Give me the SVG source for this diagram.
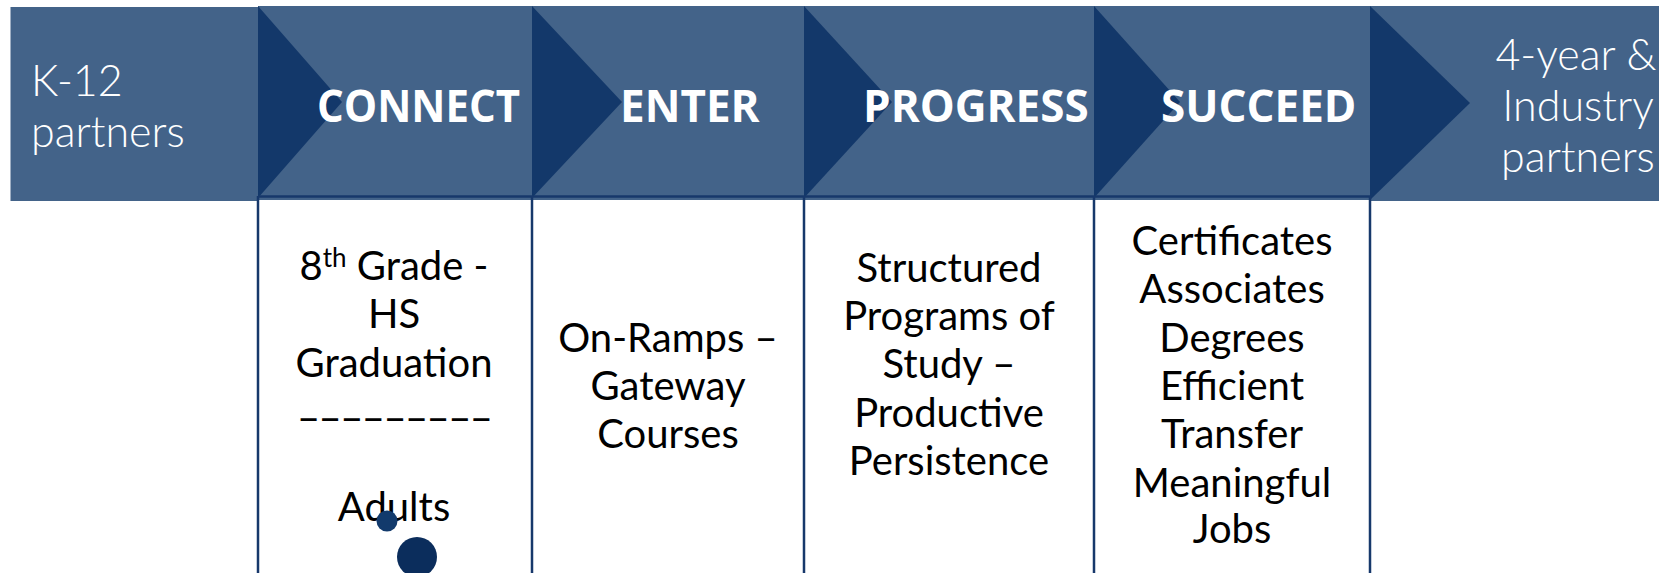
<svg xmlns="http://www.w3.org/2000/svg" width="1659" height="573" viewBox="0 0 1659 573">
<style>
.hdr{fill:#436389}
.tri{fill:#13386a}
.lbl{font-family:'Open Sans','Liberation Sans',sans-serif;font-weight:700;font-size:44px;fill:#fff}
.side{font-family:Lato,'Liberation Sans',sans-serif;font-weight:300;font-size:43px;fill:#fff}
.body{font-family:Lato,'Liberation Sans',sans-serif;font-size:40px;fill:#000;text-anchor:middle}
.ln{stroke:#17386b;stroke-width:2.5;fill:none}
</style>
<rect width="1659" height="573" fill="#fff"/>
<g id="k12">
<rect class="hdr" x="10.5" y="7" width="247.5" height="194"/>
<text class="side" x="31" y="96">K-12</text>
<text class="side" x="31" y="147">partners</text>
</g>
<g id="connect">
<rect class="hdr" x="258" y="6" width="274" height="194"/>
<polygon class="tri" points="258,6 342,102 258,198"/>
<text class="lbl" x="317" y="122" textLength="203" lengthAdjust="spacingAndGlyphs">CONNECT</text>
</g>
<g id="enter">
<rect class="hdr" x="532" y="6" width="272" height="194"/>
<polygon class="tri" points="532,6 622,102 532,198"/>
<text class="lbl" x="620" y="122">ENTER</text>
</g>
<g id="progress">
<rect class="hdr" x="804" y="6" width="290" height="194"/>
<polygon class="tri" points="804,6 892,102 804,198"/>
<text class="lbl" x="863" y="122">PROGRESS</text>
</g>
<g id="succeed">
<rect class="hdr" x="1094" y="6" width="276" height="194"/>
<polygon class="tri" points="1094,6 1180,102 1094,198"/>
<text class="lbl" x="1161" y="122">SUCCEED</text>
</g>
<g id="partners4yr">
<rect class="hdr" x="1370" y="6" width="289" height="195"/>
<polygon class="tri" points="1370,6 1470,103 1370,200"/>
<text class="side" x="1576" y="70" text-anchor="middle">4-year &amp;</text>
<text class="side" x="1578" y="121" text-anchor="middle">Industry</text>
<text class="side" x="1578" y="172" text-anchor="middle">partners</text>
</g>
<g id="connectors">
<line class="ln" x1="258" y1="196.5" x2="1370" y2="196.5"/>
<line class="ln" x1="258" y1="196" x2="258" y2="573"/>
<line class="ln" x1="532" y1="196" x2="532" y2="573"/>
<line class="ln" x1="804" y1="196" x2="804" y2="573"/>
<line class="ln" x1="1094" y1="196" x2="1094" y2="573"/>
<line class="ln" x1="1370" y1="196" x2="1370" y2="573"/>
</g>
<g id="connect-detail">
<text class="body" x="394" y="280">8<tspan font-size="26" dy="-13">th</tspan><tspan dy="13"> Grade -</tspan></text>
<text class="body" x="394" y="328">HS</text>
<text class="body" x="394" y="377">Graduation</text>
<text class="body" x="395" y="432" textLength="196" lengthAdjust="spacing">–––––––––</text>
<text class="body" x="394" y="521">Adults</text>
<circle cx="387" cy="521" r="10.5" fill="#123a6c"/>
<circle cx="417" cy="557" r="20" fill="#0b2d5c"/>
</g>
<g id="enter-detail">
<text class="body" x="668" y="352">On-Ramps –</text>
<text class="body" x="668" y="400">Gateway</text>
<text class="body" x="668" y="448">Courses</text>
</g>
<g id="progress-detail">
<text class="body" x="949" y="282">Structured</text>
<text class="body" x="949" y="330">Programs of</text>
<text class="body" x="949" y="378">Study –</text>
<text class="body" x="949" y="427">Productive</text>
<text class="body" x="949" y="475">Persistence</text>
</g>
<g id="succeed-detail">
<text class="body" x="1232" y="255">Certificates</text>
<text class="body" x="1232" y="303">Associates</text>
<text class="body" x="1232" y="352">Degrees</text>
<text class="body" x="1232" y="400">Efficient</text>
<text class="body" x="1232" y="448">Transfer</text>
<text class="body" x="1232" y="497">Meaningful</text>
<text class="body" x="1232" y="543">Jobs</text>
</g>
</svg>
